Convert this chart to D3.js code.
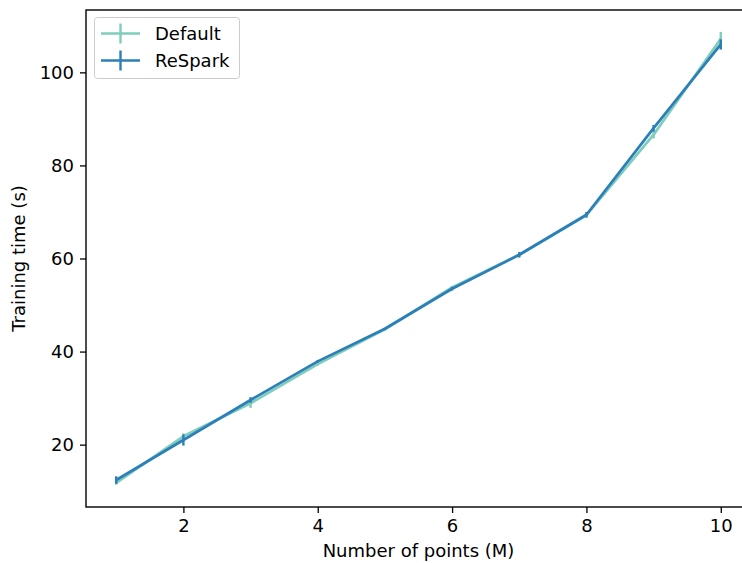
<!DOCTYPE html>
<html>
<head>
<meta charset="utf-8">
<script src="https://cdn.jsdelivr.net/npm/d3@7"></script>
<style>
  body { margin: 0; background: #fff; }
  svg { font-family: "DejaVu Sans", sans-serif; }
</style>
</head>
<body>
<svg width="742" height="563"></svg>
<script>
// number of points (M)
var points = [1, 2, 3, 4, 5, 6, 7, 8, 9, 10];
// training time (s), mean and error
var defaultTime = [11.8, 21.8, 28.9, 37.3, 44.8, 53.8, 60.8, 69.3, 86.6, 107.2];
var defaultErr  = [0.4, 0.6, 1.0, 0.3, 0.3, 0.3, 0.4, 0.5, 0.8, 1.5];
var resparkTime = [12.4, 21.0, 29.6, 37.9, 44.9, 53.5, 60.8, 69.4, 88.0, 106.0];
var resparkErr  = [0.8, 1.2, 0.6, 0.3, 0.2, 0.4, 0.6, 0.6, 0.7, 1.1];
var seriesNames = ["Default", "ReSpark"];
var seriesColors = ["#7fcdbb", "#2c7fb8"];
var xTicks = [2, 4, 6, 8, 10];
var yTicks = [20, 40, 60, 80, 100];

var svg = d3.select("svg");
var pLeft = 86, pRight = 751, pTop = 10, pBottom = 507;
var fs = 18;

var x = d3.scaleLinear().domain([0.55, 10.45]).range([pLeft, pRight]);
var y = d3.scaleLinear().domain([6.6, 113.4]).range([pBottom, pTop]);

var series = [
  {name: seriesNames[0], color: seriesColors[0], vals: defaultTime, err: defaultErr},
  {name: seriesNames[1], color: seriesColors[1], vals: resparkTime, err: resparkErr}
];

var line = d3.line()
  .x(function(d){ return x(d.p); })
  .y(function(d){ return y(d.v); });

series.forEach(function(s){
  var pts = points.map(function(p, i){ return {p: p, v: s.vals[i], e: s.err[i]}; });
  var g = svg.append("g");
  g.selectAll("line").data(pts).enter().append("line")
    .attr("x1", function(d){ return x(d.p); })
    .attr("x2", function(d){ return x(d.p); })
    .attr("y1", function(d){ return y(d.v - d.e); })
    .attr("y2", function(d){ return y(d.v + d.e); })
    .attr("stroke", s.color)
    .attr("stroke-width", 2.4);
  g.append("path").datum(pts)
    .attr("d", line)
    .attr("fill", "none")
    .attr("stroke", s.color)
    .attr("stroke-width", 2.7)
    .attr("stroke-linejoin", "round");
});

// axes
var xAxis = svg.append("g").attr("transform", "translate(0," + pBottom + ")")
  .call(d3.axisBottom(x).tickValues(xTicks).tickSize(6).tickPadding(6).tickFormat(d3.format("d")));
var yAxis = svg.append("g").attr("transform", "translate(" + pLeft + ",0)")
  .call(d3.axisLeft(y).tickValues(yTicks).tickSize(6).tickPadding(6).tickFormat(d3.format("d")));
[xAxis, yAxis].forEach(function(a){
  a.select(".domain").remove();
  a.selectAll("text").attr("font-size", fs).attr("fill", "#000")
    .attr("font-family", "DejaVu Sans, sans-serif");
  a.selectAll("line").attr("stroke", "#000").attr("stroke-width", 1.3);
});

// frame
svg.append("rect")
  .attr("x", pLeft).attr("y", pTop)
  .attr("width", pRight - pLeft).attr("height", pBottom - pTop)
  .attr("fill", "none").attr("stroke", "#000").attr("stroke-width", 1.4);

// labels
svg.append("text").attr("x", (pLeft + pRight) / 2).attr("y", 557)
  .attr("text-anchor", "middle").attr("font-size", fs).text("Number of points (M)");
svg.append("text").attr("transform", "translate(25," + ((pTop + pBottom) / 2) + ") rotate(-90)")
  .attr("text-anchor", "middle").attr("font-size", fs).text("Training time (s)");

// legend
var lg = svg.append("g");
lg.append("rect").attr("x", 94.5).attr("y", 17.5).attr("width", 145).attr("height", 61)
  .attr("rx", 3).attr("fill", "#fff").attr("fill-opacity", 0.8)
  .attr("stroke", "#ccc").attr("stroke-width", 1);
series.forEach(function(s, i){
  var ly = 33.5 + i * 27;
  lg.append("line").attr("x1", 101).attr("x2", 140).attr("y1", ly).attr("y2", ly)
    .attr("stroke", s.color).attr("stroke-width", 2.7);
  lg.append("line").attr("x1", 120.5).attr("x2", 120.5).attr("y1", ly - 10).attr("y2", ly + 10)
    .attr("stroke", s.color).attr("stroke-width", 2.4);
  lg.append("text").attr("x", 155).attr("y", ly + 6.5).attr("font-size", fs).text(s.name);
});
</script>
</body>
</html>
